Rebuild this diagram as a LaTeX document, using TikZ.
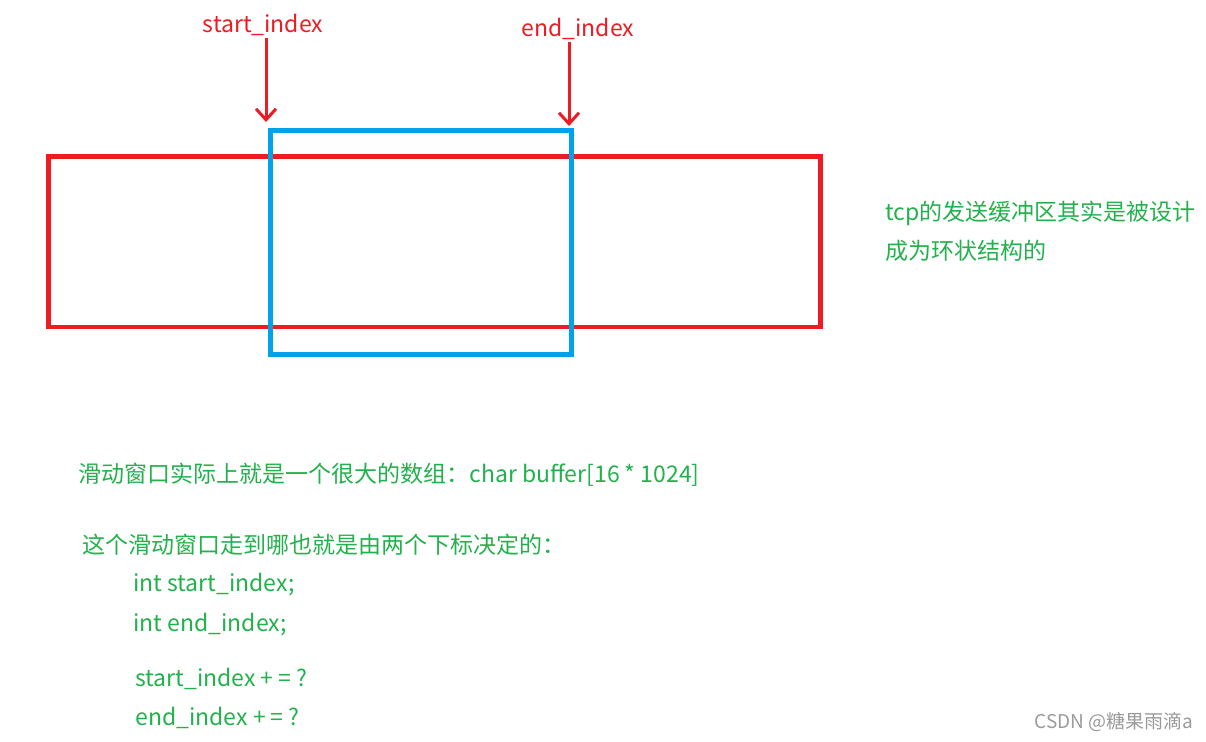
\documentclass[tikz,border=0pt]{standalone}
\usepackage{fontspec}
\setmainfont{Noto Sans CJK SC}
\usepackage{tikz}
\usetikzlibrary{arrows.meta, positioning}

\definecolor{paintred}{HTML}{ED1C24}
\definecolor{paintblue}{HTML}{00A2E8}
\definecolor{notegreen}{HTML}{22B14C}
\definecolor{markgray}{HTML}{9A9A9A}

\begin{document}
\begin{tikzpicture}[x=0.5pt, y=-0.5pt,
        font=\fontsize{11.5pt}{14pt}\selectfont,
        buffer/.style   = {rectangle, draw=paintred, line width=2.25pt, minimum width=386pt, minimum height=85.25pt, inner sep=0pt},
        window/.style   = {rectangle, draw=paintblue, line width=2.25pt, minimum width=150.7pt, minimum height=112pt, inner sep=0pt},
        idx_label/.style= {text=paintred, inner sep=1pt},
        pointer/.style  = {draw=paintred, line width=1.5pt, -{Straight Barb[length=5.5pt, width=10pt]}},
        note/.style     = {text=notegreen, anchor=west, inner sep=0pt},
        watermark/.style= {text=markgray, anchor=west, inner sep=0pt, font=\fontsize{9.5pt}{11pt}\selectfont}
    ]
    \useasboundingbox (0,0) rectangle (1206,741);

    % --- SEND BUFFER AND SLIDING WINDOW ---
    \node[buffer] (sendbuf) at (434.5, 241.75) {};
    \node[window] (slidewin) at (421, 242.3) {};

    % --- INDEX POINTERS ---
    \node[idx_label] (startlbl) at (263, 25) {start\_index};
    \node[idx_label] (endlbl)   at (578, 29) {end\_index};

    \coordinate (starttip) at (266, 122);
    \coordinate (endtip)   at (569, 126);

    \draw[pointer] (startlbl.south -| starttip) -- (starttip);
    \draw[pointer] (endlbl.south -| endtip) -- (endtip);

    % --- NOTES ---
    \node[note] (ringnote)  at (885, 213) {tcp的发送缓冲区其实是被设计};
    \node[note] (ringnote2) at (885, 251) {成为环状结构的};

    \node[note] (arraynote) at (78, 475) {滑动窗口实际上就是一个很大的数组：char buffer[16 * 1024]};

    \node[note] (idxnote)  at (82, 545)  {这个滑动窗口走到哪也就是由两个下标决定的：};
    \node[note] (decstart) at (133, 585) {int start\_index;};
    \node[note] (decend)   at (133, 625) {int end\_index;};
    \node[note] (incstart) at (135, 679) {start\_index + = ?};
    \node[note] (incend)   at (135, 718) {end\_index + = ?};

    % --- WATERMARK ---
    \node[watermark] (csdn) at (1034, 722) {CSDN @糖果雨滴a};

\end{tikzpicture}
\end{document}
